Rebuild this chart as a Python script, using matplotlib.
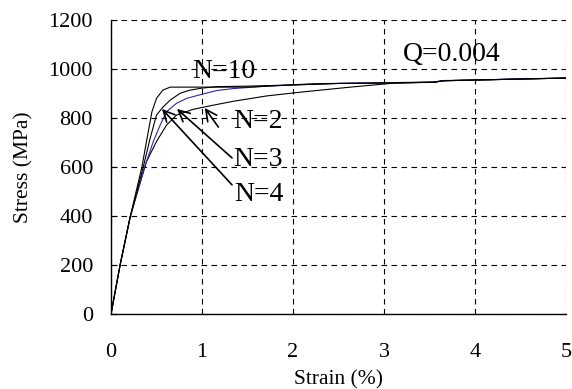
import matplotlib
matplotlib.use("Agg")
import matplotlib.pyplot as plt

# N=10
strain_n10 = [0, 0.1, 0.21, 0.34, 0.39, 0.45, 0.50, 0.57, 0.65, 1.0, 1.5, 2.0, 2.5, 3.0, 3.55, 3.65, 4.0, 4.5, 5.0]
stress_n10 = [0, 200, 395, 601, 704, 826, 880, 914, 926, 926, 926, 935, 941, 943, 946, 952, 955, 959, 963]
# N=4
strain_n4 = [0, 0.1, 0.21, 0.355, 0.43, 0.50, 0.575, 0.65, 0.76, 0.87, 1.0, 1.16, 1.5, 2.0, 2.5, 3.0, 3.55, 3.65, 4.0, 4.5, 5.0]
stress_n4 = [0, 200, 395, 601, 717, 812, 846, 873, 901, 914, 922, 928, 930, 935, 941, 943, 946, 952, 955, 959, 963]
# N=3 (blue)
strain_n3 = [0, 0.1, 0.21, 0.37, 0.465, 0.54, 0.61, 0.72, 0.83, 1.0, 1.16, 1.34, 1.71, 2.22, 2.6, 3.0, 3.55, 3.65, 4.0, 4.5, 5.0]
stress_n3 = [0, 200, 395, 601, 704, 771, 826, 860, 880, 897, 912, 920, 930, 940, 942, 944, 947, 953, 955, 960, 963]
# N=2
strain_n2 = [0, 0.1, 0.21, 0.3, 0.39, 0.50, 0.61, 0.72, 0.90, 1.0, 1.16, 1.34, 1.71, 2.07, 2.63, 3.1, 3.55, 3.65, 4.0, 4.5, 5.0]
stress_n2 = [0, 200, 395, 510, 622, 704, 771, 812, 835, 843, 855, 868, 890, 905, 926, 942, 946, 952, 955, 959, 963]

x_ticks = [0, 1, 2, 3, 4, 5]
y_ticks = [0, 200, 400, 600, 800, 1000, 1200]

plt.rcParams['font.family'] = ['Liberation Serif', 'DejaVu Serif']

fig = plt.figure(figsize=(5.72, 3.89), dpi=100)
ax = fig.add_axes([111/572, 75/389, 455/572, 294/389])

ax.plot(strain_n2, stress_n2, color='black', lw=0.8)
ax.plot(strain_n3, stress_n3, color='#2a2aa8', lw=0.8)
ax.plot(strain_n4, stress_n4, color='black', lw=0.8)
ax.plot(strain_n10, stress_n10, color='black', lw=0.8)

ax.set_xlim(0, 5)
ax.set_ylim(0, 1200)
ax.set_xticks(x_ticks)
ax.set_yticks(y_ticks)
ax.grid(True, color='black', linestyle=(0, (5, 4)), lw=0.8)
ax.set_axisbelow(True)
for s in ['top', 'right']:
    ax.spines[s].set_visible(False)
for s in ['left', 'bottom']:
    ax.spines[s].set_linewidth(1.0)
ax.tick_params(axis='y', direction='in', length=4, labelsize=16, pad=13)
ax.tick_params(axis='x', direction='in', length=0, labelsize=16, pad=21)

ax.set_xlabel('Strain (%)', fontsize=15.5, labelpad=6)
ax.set_ylabel('Stress (MPa)', fontsize=15.5, labelpad=11)

ax.text(1.24, 988, 'N=10', fontsize=20, ha='center', va='center')
ax.text(3.74, 1061, 'Q=0.004', fontsize=20, ha='center', va='center')
ax.text(1.62, 784, 'N=2', fontsize=20, ha='center', va='center')
ax.text(1.62, 629, 'N=3', fontsize=20, ha='center', va='center')
ax.text(1.62, 486, 'N=4', fontsize=20, ha='center', va='center')

ap = dict(arrowstyle='->', lw=1.2, color='black', mutation_scale=20, shrinkA=0, shrinkB=0)
ax.annotate('', xy=(1.03, 841), xytext=(1.18, 763), arrowprops=ap)
ax.annotate('', xy=(0.725, 837), xytext=(1.33, 637), arrowprops=ap)
ax.annotate('', xy=(0.56, 837), xytext=(1.33, 527), arrowprops=ap)

fig.savefig('out.png', dpi=100)
